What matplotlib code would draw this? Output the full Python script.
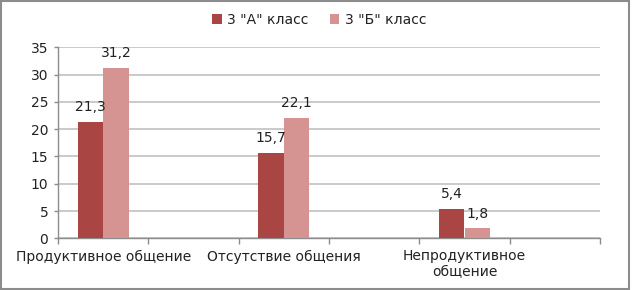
import matplotlib.pyplot as plt
import numpy as np
from matplotlib.patches import Rectangle

categories = ['Продуктивное общение', 'Отсутствие общения', 'Непродуктивное\nобщение']
class_a = [21.3, 15.7, 5.4]
class_b = [31.2, 22.1, 1.8]
series_names = ['3 "А" класс', '3 "Б" класс']

col_a = '#A94643'
col_b = '#D59391'
grid_col = '#C6C6C6'
axis_col = '#8C8C8C'

plt.rcParams['font.family'] = 'DejaVu Sans'

fig, ax = plt.subplots(figsize=(6.32, 2.90), dpi=100)
fig.subplots_adjust(left=58/632, right=600/632, top=1-47.3/290, bottom=1-238.3/290)

# every real category sits in every other slot, empty slots in between
pos = np.arange(len(categories)) * 2
barWidth = 0.282

bars_a = ax.bar(pos - barWidth/2, class_a, width=barWidth, color=col_a, label=series_names[0], zorder=3)
bars_b = ax.bar(pos + barWidth/2, class_b, width=barWidth, color=col_b, label=series_names[1], zorder=3)

for bars in (bars_a, bars_b):
    for b in bars:
        h = b.get_height()
        ax.annotate(str(h).replace('.', ','), (b.get_x() + b.get_width()/2, h),
                    xytext=(0, 5.5), textcoords='offset points', ha='center', va='bottom',
                    fontsize=10, color='#222222')

ax.set_xlim(-0.5, len(categories)*2 - 0.5)
ax.set_ylim(0, 35)
ax.set_yticks(np.arange(0, 36, 5))
ax.set_xticks(pos)
ax.set_xticklabels(categories, fontsize=10, color='#222222', linespacing=1.15)
ax.set_xticks(np.arange(-0.5, len(categories)*2, 1), minor=True)
ax.tick_params(axis='x', which='major', length=0, pad=8)
ax.tick_params(axis='x', which='minor', length=4, color=axis_col, width=1, direction='out')
ax.tick_params(axis='y', length=3, color=axis_col, width=1, labelsize=10, labelcolor='#222222', pad=4)

ax.yaxis.grid(True, color=grid_col, linewidth=1.3, zorder=0)
ax.set_axisbelow(True)
for s in ['top', 'right']:
    ax.spines[s].set_visible(False)
for s in ['left', 'bottom']:
    ax.spines[s].set_color(axis_col)
    ax.spines[s].set_linewidth(1)

fig.legend(loc='center', bbox_to_anchor=(0.505, 1-20/290), ncol=2, frameon=False,
           fontsize=10, handlelength=0.7, handleheight=0.7, handletextpad=0.4,
           columnspacing=1.5, labelcolor='#222222')

fig.patches.append(Rectangle((0.002, 0.005), 0.993, 0.99, transform=fig.transFigure,
                             fill=False, edgecolor='#8C8C8C', linewidth=1.5))

fig.savefig('out.png', dpi=100)
